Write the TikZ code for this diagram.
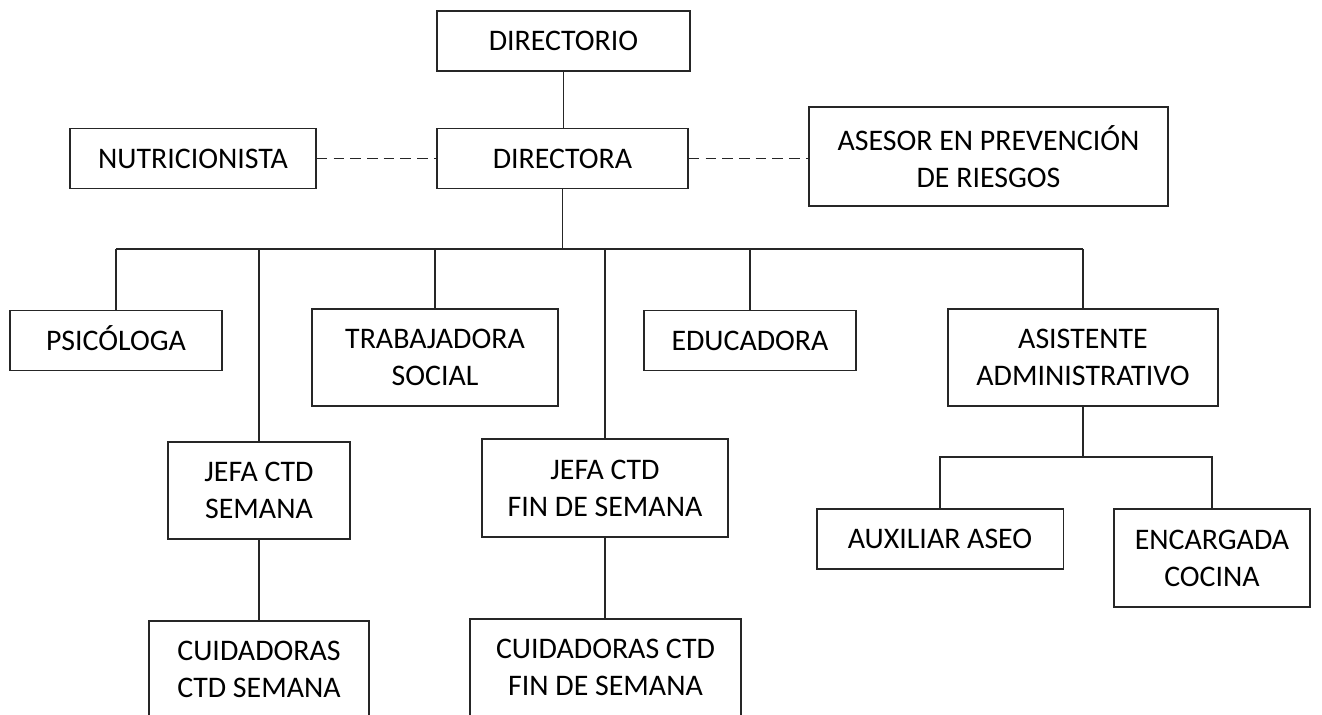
\documentclass[tikz,border=0pt]{standalone}
\usepackage{fontspec}
\setmainfont{Carlito}
\definecolor{orgline}{HTML}{262626}
\tikzset{
  orgbox/.style={draw=orgline,line width=1.1pt,align=center,inner sep=0pt,font=\fontsize{17}{21}\selectfont},
  onebox/.style={orgbox,minimum height=1.2cm,text height=11pt,text depth=0pt},
  twobox/.style={orgbox,minimum height=1.95cm},
  orgedge/.style={draw=orgline,line width=1.1pt},
  staffedge/.style={orgedge,dash pattern=on 6pt off 3.5pt},
}

\begin{document}
\begin{tikzpicture}[x=0.02cm,y=-0.02cm]
  \useasboundingbox (0,0) rectangle (1322,715);
  \clip (0,0) rectangle (1322,715);
  % top of the chart
  \node[onebox,minimum width=5.06cm] (nDirectorio) at (563.5,41) {DIRECTORIO};
  \node[onebox,minimum width=5.02cm] (nDirectora) at (562.5,158.5) {DIRECTORA};
  \node[onebox,minimum width=4.92cm] (nNutricion) at (193,158.5) {NUTRICIONISTA};
  \node[twobox,minimum width=7.18cm,minimum height=1.98cm] (nAsesor) at (988.5,156.5) {ASESOR EN PREVENCIÓN\\DE RIESGOS};
  % second level
  \node[onebox,minimum width=4.24cm] (nPsicologa) at (116,340.5) {PSICÓLOGA};
  \node[twobox,minimum width=4.92cm] (nTrabajadora) at (435,357.5) {TRABAJADORA\\SOCIAL};
  \node[onebox,minimum width=4.24cm] (nEducadora) at (750,340.5) {EDUCADORA};
  \node[twobox,minimum width=5.4cm] (nAsistente) at (1083,357.5) {ASISTENTE\\ADMINISTRATIVO};
  \node[twobox,minimum width=3.64cm] (nJefaSem) at (259,490.5) {JEFA CTD\\SEMANA};
  \node[twobox,minimum width=4.92cm] (nJefaFin) at (605,488) {JEFA CTD\\FIN DE SEMANA};
  % bottom
  \node[twobox,minimum width=4.4cm] (nCuidSem) at (259,669.5) {CUIDADORAS\\CTD SEMANA};
  \node[twobox,minimum width=5.42cm] (nCuidFin) at (605.5,667.5) {CUIDADORAS CTD\\FIN DE SEMANA};
  \node[onebox,minimum width=4.94cm] (nAuxiliar) at (940,539) {AUXILIAR ASEO};
  \node[twobox,minimum width=3.92cm] (nEncargada) at (1212,558) {ENCARGADA\\COCINA};

  \coordinate (bus) at (564,249);
  \coordinate (subbus) at (1083,457);
  \draw[orgedge] (nDirectorio.south) -- (nDirectorio.south |- nDirectora.north);
  \draw[staffedge] (nNutricion.east) -- (nDirectora.west);
  \draw[staffedge] (nDirectora.east) -- (nDirectora.east -| nAsesor.west);
  \draw[orgedge] (nDirectora.south) -- (nDirectora.south |- bus);
  \draw[orgedge] (nPsicologa.north |- bus) -- (nAsistente.north |- bus);
  \foreach \n in {nPsicologa,nJefaSem,nTrabajadora,nJefaFin,nEducadora,nAsistente}
    \draw[orgedge] (\n.north) -- (\n.north |- bus);
  \draw[orgedge] (nJefaSem.south) -- (nJefaSem.south |- nCuidSem.north);
  \draw[orgedge] (nJefaFin.south) -- (nJefaFin.south |- nCuidFin.north);
  \draw[orgedge] (nAsistente.south) -- (subbus);
  \draw[orgedge] (nAuxiliar.north) |- (subbus) -| (nEncargada.north);
\end{tikzpicture}
\end{document}
